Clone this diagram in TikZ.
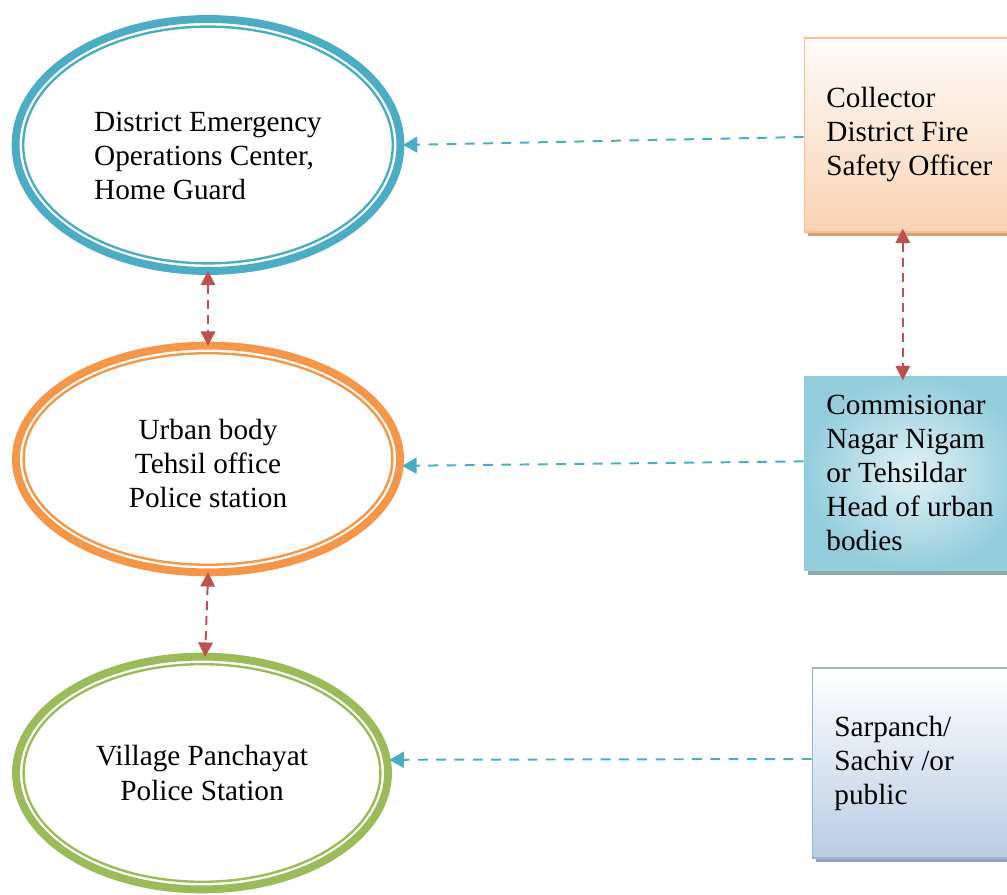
\documentclass[tikz,border=0pt]{standalone}
\usepackage{fontspec}
\setmainfont{Liberation Serif}
\definecolor{ofblue}{HTML}{4BACC6}
\definecolor{oforange}{HTML}{F79646}
\definecolor{ofgreen}{HTML}{9BBB59}
\definecolor{ofred}{HTML}{C0504D}
\definecolor{peachline}{HTML}{FAC090}
\definecolor{peachfill}{HTML}{F9D3B3}
\definecolor{peachshadow}{HTML}{CFA27E}
\definecolor{aqualine}{HTML}{92CDDC}
\definecolor{aquafill}{HTML}{E2F2F6}
\definecolor{aquadark}{HTML}{93CDDC}
\definecolor{aquashadow}{HTML}{8EA7B0}
\definecolor{slateline}{HTML}{95B3D7}
\definecolor{slatefill}{HTML}{B8CCE4}
\definecolor{slateshadow}{HTML}{97A3B3}
\usetikzlibrary{shapes.geometric,arrows.meta,shadows}

\begin{document}
\begin{tikzpicture}[
  ring/.style={ellipse, draw=#1, line width=5.6pt, inner sep=0pt},
  innerring/.style={ellipse, draw=#1, line width=1.7pt, inner sep=0pt},
  ringtext/.style={font=\fontsize{20.8}{24.2}\selectfont, align=center},
  officer/.style={rectangle, draw=#1, line width=1.2pt, text width=4.4cm,
    inner xsep=0.55cm, align=flush left, font=\fontsize{20.8}{24.2}\selectfont},
  link/.style={ofblue, line width=1.4pt, dash pattern=on 7pt off 6pt,
    -{Triangle[length=0.36cm,width=0.4cm]}, shorten >=-1pt},
  twoway/.style={ofred, line width=1.4pt, dash pattern=on 6.4pt off 4.3pt,
    {Triangle[length=0.36cm,width=0.36cm]}-{Triangle[length=0.36cm,width=0.36cm]},
    shorten >=-3pt, shorten <=-3pt}
]
  \useasboundingbox (0,0) rectangle (25.175,22.375);

  % Offices (double rings)
  \node[ring=ofblue, minimum width=9.62cm, minimum height=6.3cm,
    label={[ringtext, align=left, yshift=-0.27cm]center:District Emergency\\Operations Center,\\Home Guard}]
    (eoc) at (5.2,18.75) {};
  \node[innerring=ofblue, minimum width=9.24cm, minimum height=5.92cm] (eoc-in)
    at (eoc.center) {};
  \node[ring=oforange, minimum width=9.6cm, minimum height=5.67cm,
    label={[ringtext, yshift=-0.12cm]center:Urban body\\Tehsil office\\Police station}]
    (urb) at (5.2,10.9) {};
  \node[innerring=oforange, minimum width=9.22cm, minimum height=5.29cm] (urb-in)
    at (urb.center) {};
  \node[ring=ofgreen, minimum width=9.3cm, minimum height=5.82cm,
    label={[ringtext]center:Village Panchayat\\Police Station}]
    (vps) at (5.05,3.05) {};
  \node[innerring=ofgreen, minimum width=8.92cm, minimum height=5.44cm] (vps-in)
    at (vps.center) {};

  % Officers on the right
  \node[officer=peachline, minimum height=4.85cm, top color=white!92!peachfill,
    bottom color=peachfill,
    drop shadow={shadow xshift=0.1cm, shadow yshift=-0.1cm, fill=peachshadow, opacity=1}]
    (dfso) at (22.86,19.0) {Collector\\District Fire\\Safety Officer};
  \node[officer=aqualine, minimum height=4.825cm, inner color=aquafill,
    outer color=aquadark,
    drop shadow={shadow xshift=0.1cm, shadow yshift=-0.12cm, fill=aquashadow, opacity=1}]
    (cnn) at (22.86,10.54) {Commisionar\\Nagar Nigam\\or Tehsildar\\Head of urban\\bodies};
  \node[officer=slateline, minimum height=4.75cm, top color=white,
    bottom color=slatefill,
    drop shadow={shadow xshift=0.1cm, shadow yshift=-0.1cm, fill=slateshadow, opacity=1}]
    (spc) at (23.06,3.3) {Sarpanch/\\Sachiv /or\\public};

  % Reporting lines
  \draw[link] ([yshift=-0.05cm]dfso.west) -- (eoc.east);
  \draw[link] ([yshift=0.3cm]cnn.west) -- (urb.-2);
  \draw[link] ([yshift=0.1cm]spc.west) -- (vps.4);

  % Coordination between levels
  \draw[twoway] (eoc.south) -- (urb.north);
  \draw[twoway] (urb.south) -- ([xshift=0.08cm]vps.north);
  \draw[twoway] ([xshift=-0.29cm]dfso.south) -- ([xshift=-0.29cm]cnn.north);
\end{tikzpicture}
\end{document}
